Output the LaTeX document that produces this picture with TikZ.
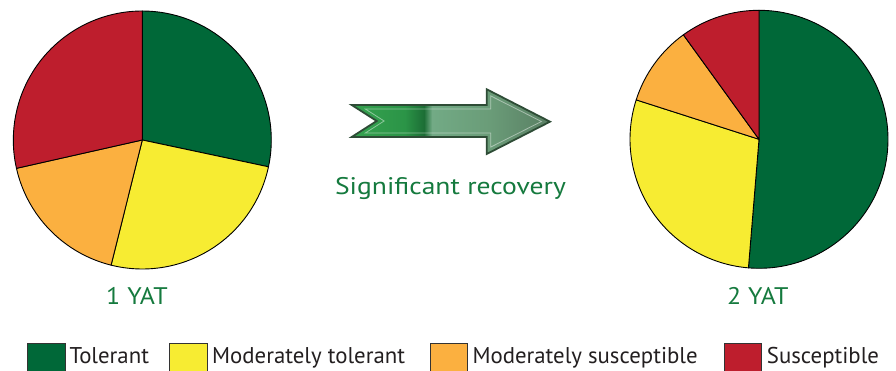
\documentclass[tikz,border=0pt]{standalone}
\usepackage{fontspec}
\setmainfont{PT Sans}
\definecolor{tolgreen}{HTML}{006838}
\definecolor{modyellow}{HTML}{F7EC32}
\definecolor{modorange}{HTML}{FBB040}
\definecolor{suscred}{HTML}{BE1E2D}
\definecolor{labelgreen}{HTML}{157A3E}
\definecolor{legtext}{HTML}{231F20}
\definecolor{arrowline}{HTML}{2E4C36}
\definecolor{ag1}{HTML}{36A350}
\definecolor{ag2}{HTML}{2B9447}
\definecolor{ag3}{HTML}{1C6E35}
\definecolor{ag4}{HTML}{72AA85}
\definecolor{ag5}{HTML}{6A9C78}
\definecolor{ag6}{HTML}{587D62}
\tikzset{
  slice/.style={draw=black, line width=0.9pt, line join=round},
  biglabel/.style={anchor=base, inner sep=0pt, text=labelgreen, font=\fontsize{24}{28}\selectfont},
  legbox/.style={draw=black!80, line width=0.8pt},
  legtext/.style={anchor=base west, inner sep=0pt, text=legtext, font=\fontsize{22.8}{28}\selectfont},
}
\begin{document}
\begin{tikzpicture}[x=1pt,y=1pt]
\clip (0,0) rectangle (896,371);
\fill[white] (0,0) rectangle (896,371);
% Pie 1
\coordinate (p1) at (142.3,231);
\def\r{129}
\filldraw[slice, fill=tolgreen] (p1) -- ++(-12:\r) arc[start angle=-12, end angle=90, radius=\r] -- cycle;
\filldraw[slice, fill=modyellow] (p1) -- ++(-104:\r) arc[start angle=-104, end angle=-12, radius=\r] -- cycle;
\filldraw[slice, fill=modorange] (p1) -- ++(192.7:\r) arc[start angle=192.7, end angle=256, radius=\r] -- cycle;
\filldraw[slice, fill=suscred] (p1) -- ++(90:\r) arc[start angle=90, end angle=192.7, radius=\r] -- cycle;
% Pie 2
\coordinate (p2) at (759,231.7);
\filldraw[slice, fill=tolgreen] (p2) -- ++(-94.7:\r) arc[start angle=-94.7, end angle=90, radius=\r] -- cycle;
\filldraw[slice, fill=modyellow] (p2) -- ++(162.2:\r) arc[start angle=162.2, end angle=265.3, radius=\r] -- cycle;
\filldraw[slice, fill=modorange] (p2) -- ++(125.9:\r) arc[start angle=125.9, end angle=162.2, radius=\r] -- cycle;
\filldraw[slice, fill=suscred] (p2) -- ++(90:\r) arc[start angle=90, end angle=125.9, radius=\r] -- cycle;
% Arrow
\begin{scope}
\clip (351.7,266) -- (486.7,266) -- (486.7,281.7) -- (550,249.3) -- (486.7,217) -- (486.7,234) -- (351.7,234) -- (376.7,250) -- cycle;
\fill[left color=ag1, right color=ag2] (350,210) rectangle (405,285);
\fill[left color=ag2, right color=ag3] (405,210) rectangle (424,285);
\fill[left color=ag3, right color=ag4] (424,210) rectangle (432,285);
\fill[left color=ag4, right color=ag5] (432,210) rectangle (490,285);
\fill[left color=ag5, right color=ag6] (490,210) rectangle (552,285);
\end{scope}
\draw[white, opacity=0.45, line width=0.8pt, line join=miter]
  (365.3,262) -- (490.7,262) -- (490.7,275.1) -- (541.5,249.5) -- (490.7,223.9) -- (490.7,238) -- (365.3,238) -- (384.1,250) -- cycle;
\draw[arrowline, line width=1.8pt, line join=miter]
  (351.7,266) -- (486.7,266) -- (486.7,281.7) -- (550,249.3) -- (486.7,217) -- (486.7,234) -- (351.7,234) -- (376.7,250) -- cycle;
% Labels
\node[biglabel] (rec) at (450.5,176.7) {\scalebox{1.15}[1]{Significant recovery}};
\node[biglabel] (yat1) at (137,66.7) {\scalebox{1.08}[1]{1 YAT}};
\node[biglabel] (yat2) at (757.8,66.7) {\scalebox{1.08}[1]{2 YAT}};
% Legend
\filldraw[legbox, fill=tolgreen] (27.3,-3) rectangle (65,27.7);
\node[legtext] (lt1) at (69.3,7.7) {Tolerant};
\filldraw[legbox, fill=modyellow] (169.3,-3) rectangle (207.3,27.7);
\node[legtext] (lt2) at (212,7.7) {Moderately tolerant};
\filldraw[legbox, fill=modorange] (430,-3) rectangle (467.3,27.7);
\node[legtext] (lt3) at (472.3,7.7) {Moderately susceptible};
\filldraw[legbox, fill=suscred] (724,-3) rectangle (761.7,27.7);
\node[legtext] (lt4) at (766.7,7.7) {Susceptible};
\end{tikzpicture}
\end{document}
